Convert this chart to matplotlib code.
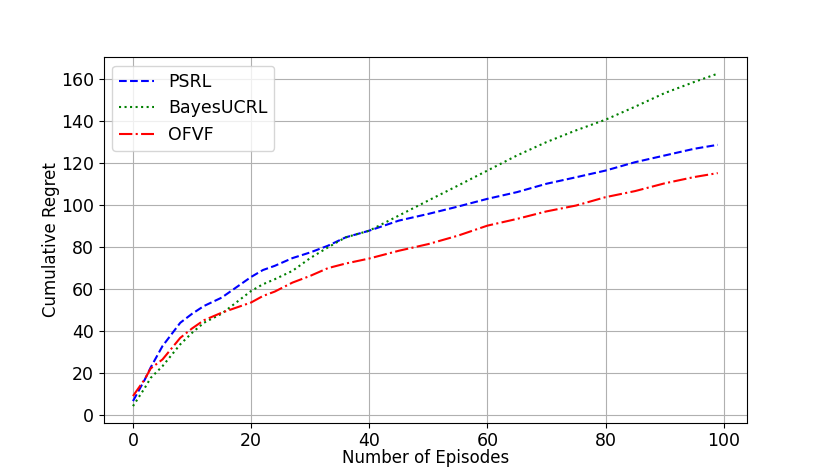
import matplotlib.pyplot as plt

# Episodios
episodios = [0, 2, 3, 5, 8, 10, 12, 15, 20, 22, 24, 27, 30, 33, 36, 40, 45, 50,
             55, 60, 65, 70, 75, 80, 85, 90, 95, 99]

psrl = [6.4, 16.7, 22.5, 32.7, 43.8, 48.1, 51.8, 55.8, 65.7, 69.0, 71.0, 74.7,
        77.4, 80.6, 84.6, 87.8, 92.6, 95.8, 99.3, 103.0, 106.2, 110.2, 113.3,
        116.5, 120.5, 123.7, 126.9, 128.8]

bayes_ucrl = [4.0, 12.7, 17.5, 23.1, 33.5, 39.0, 43.8, 48.1, 59.0, 62.2, 64.6,
              68.6, 74.7, 79.8, 84.6, 87.8, 95.0, 102.2, 109.3, 116.5, 123.7,
              130.1, 135.7, 140.8, 147.0, 153.5, 158.8, 162.8]

ofvf = [8.8, 16.9, 22.0, 26.3, 36.6, 41.1, 45.0, 48.6, 53.5, 56.6, 58.7, 63.0,
        66.2, 69.9, 72.1, 74.5, 78.2, 81.4, 85.4, 90.2, 93.4, 97.0, 99.8, 103.8,
        106.7, 110.4, 113.4, 115.3]

plt.figure(figsize=(8.3, 4.75), dpi=100)

plt.plot(episodios, psrl, 'b--', label='PSRL')
plt.plot(episodios, bayes_ucrl, 'g:', label='BayesUCRL')
plt.plot(episodios, ofvf, 'r-.', label='OFVF')

plt.xlabel("Number of Episodes", fontsize=12, labelpad=-1)
plt.ylabel("Cumulative Regret", fontsize=12, labelpad=1)
plt.xticks(fontsize=12.5)
plt.yticks(fontsize=12.5)
plt.legend(loc='upper left', fontsize=12.5)
plt.grid(True)

plt.savefig("out.png")
